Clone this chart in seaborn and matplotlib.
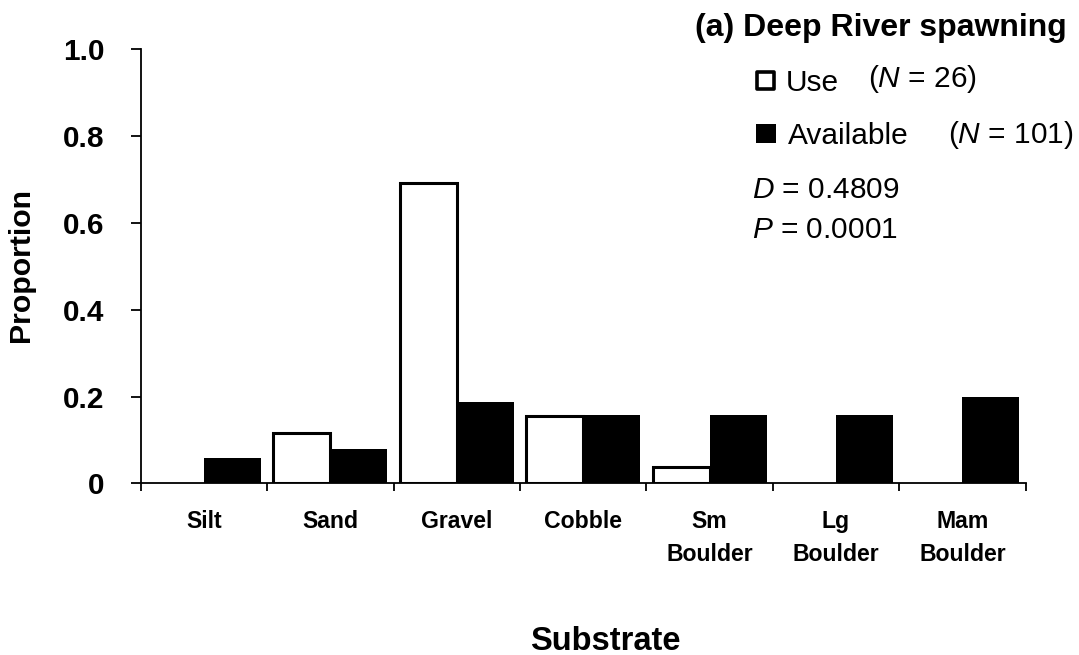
import numpy as np
import pandas as pd
import matplotlib
matplotlib.use("Agg")
import matplotlib.pyplot as plt
from matplotlib.patches import Rectangle
import seaborn as sns

# Substrate categories and proportions of spawning use vs. availability
substrates = ["Silt", "Sand", "Gravel", "Cobble", "Sm\nBoulder", "Lg\nBoulder", "Mam\nBoulder"]
use = [0.0, 0.115, 0.692, 0.154, 0.038, 0.0, 0.0]
available = [0.059, 0.079, 0.188, 0.158, 0.158, 0.158, 0.198]
groups = ["Use", "Available"]
y_ticks = [0.0, 0.2, 0.4, 0.6, 0.8, 1.0]
y_tick_labels = ["0", "0.2", "0.4", "0.6", "0.8", "1.0"]

df = pd.DataFrame({
    "Substrate": substrates * 2,
    "Proportion": use + available,
    "Group": ["Use"] * len(substrates) + ["Available"] * len(substrates),
})

sns.set_style("ticks")
plt.rcParams["font.family"] = ["Liberation Sans", "DejaVu Sans"]
plt.rcParams["mathtext.fontset"] = "custom"
plt.rcParams["mathtext.rm"] = "Liberation Sans"
plt.rcParams["mathtext.it"] = "Liberation Sans:italic"
for key in ["text.color", "axes.labelcolor", "xtick.color", "ytick.color", "axes.edgecolor"]:
    plt.rcParams[key] = "black"

W, H = 1079, 655
fig = plt.figure(figsize=(W / 100, H / 100), dpi=100)
ax = fig.add_axes([140.7 / W, 1 - 483.3 / H, (1025.7 - 140.7) / W, (483.3 - 49.3) / H])

sns.barplot(data=df, x="Substrate", y="Proportion", hue="Group",
            order=substrates, hue_order=groups,
            palette={"Use": "white", "Available": "black"},
            edgecolor="black", linewidth=2.2, width=0.9, saturation=1,
            legend=False, ax=ax)

for p in ax.patches:
    if p.get_height() == 0:
        p.set_linewidth(0)
    elif p.get_facecolor()[0] < 0.5:
        p.set_linewidth(0)

ax.set_xlim(-0.5, len(substrates) - 0.5)
ax.set_ylim(0, 1.0)
ax.set_xlabel("")
ax.set_ylabel("")

# tick marks between categories, labels centred under each category
ax.set_xticks(np.arange(-0.5, len(substrates), 1.0))
ax.set_xticklabels([])
ax.set_xticks(np.arange(len(substrates)), labels=substrates, minor=True)
ax.tick_params(axis="x", which="major", direction="out", length=6, width=1.3)
ax.tick_params(axis="x", which="minor", length=0, pad=19.5)
for t in ax.get_xticklabels(minor=True):
    t.set_fontsize(16.6)
    t.set_fontweight("bold")
    t.set_ha("center")
    t.set_multialignment("center")
    t.set_linespacing(1.55)

ax.set_yticks(y_ticks, labels=y_tick_labels)
ax.tick_params(axis="y", direction="out", length=7, width=1.3, pad=19)
for t in ax.get_yticklabels():
    t.set_fontsize(21.4)
    t.set_fontweight("bold")

sns.despine(ax=ax)
for s in ["left", "bottom"]:
    ax.spines[s].set_linewidth(1.3)
    ax.spines[s].set_color("black")

# axis titles and panel title
fig.text(21 / W, 1 - 265.5 / H, "Proportion", rotation=90, fontsize=21.8,
         fontweight="bold", ha="center", va="center")
fig.text(605 / W, 1 - 649.5 / H, "Substrate", fontsize=23.5,
         fontweight="bold", ha="center", va="baseline")
fig.text(1067 / W, 1 - 36 / H, "(a) Deep River spawning", fontsize=23,
         fontweight="bold", ha="right", va="baseline")

# legend keys and statistics
def fx(px):
    return px / W

def fy(py):
    return 1 - py / H

fig.patches.append(Rectangle((fx(756.8), fy(89.2)), 17.4 / W, 17.4 / H,
                             transform=fig.transFigure, facecolor="white",
                             edgecolor="black", linewidth=2.6, joinstyle="round"))
fig.patches.append(Rectangle((fx(756), fy(143)), 19.5 / W, 19 / H,
                             transform=fig.transFigure, facecolor="black",
                             edgecolor="none"))

fs = 21.5
fig.text(fx(786), fy(91), "Use", fontsize=fs, va="baseline")
fig.text(fx(868), fy(87), "($\\mathit{N}$ = 26)", fontsize=fs, va="baseline")
fig.text(fx(788), fy(144.3), "Available", fontsize=fs, va="baseline")
fig.text(fx(948), fy(143.5), "($\\mathit{N}$ = 101)", fontsize=fs, va="baseline")
fig.text(fx(752), fy(198), "$\\mathit{D}$ = 0.4809", fontsize=fs, va="baseline")
fig.text(fx(752), fy(237.7), "$\\mathit{P}$ = 0.0001", fontsize=fs, va="baseline")

fig.savefig("out.png", dpi=100, facecolor="white")
